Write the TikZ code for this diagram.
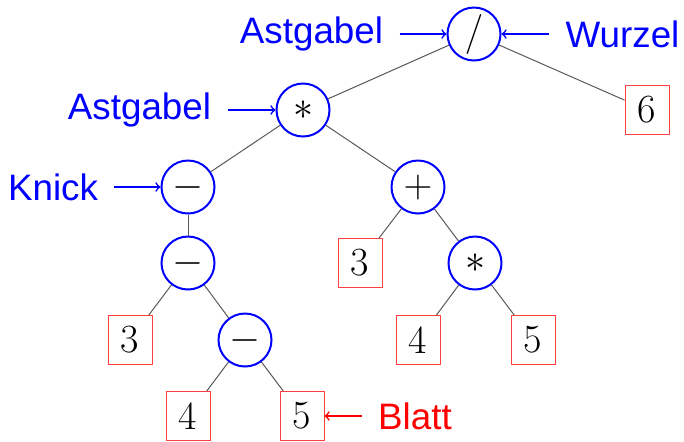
\RequirePackage{fix-cm}
\documentclass[tikz,border=0pt]{standalone}
\usepackage{fontspec}
\newfontfamily\labfont{Liberation Sans}
\begin{document}
\begin{tikzpicture}[x=0.5pt,y=-0.5pt,
  op/.style={circle,draw=blue,line width=1pt,minimum size=26.5pt,inner sep=0pt,font=\fontsize{20}{24}\selectfont},
  leaf/.style={rectangle,draw=red!75,line width=0.5pt,minimum width=22pt,minimum height=24.5pt,inner sep=0pt,font=\fontsize{20}{24}\selectfont},
  edge/.style={draw=black!65,line width=0.5pt},
  lab/.style={font=\labfont\fontsize{18.4}{22}\selectfont,inner ysep=0pt,inner xsep=8pt},
  pointer/.style={->,line width=0.8pt}]
\useasboundingbox (0,0) rectangle (684,441);
% tree nodes
\node[op]   (root) at (474,34)  {$/$};
\node[leaf] (six)  at (647,110) {6};
\node[op]   (m1)   at (303,110) {$*$};
\node[op]   (k)    at (188,187) {$-$};
\node[op]   (p)    at (418,187) {$+$};
\node[op]   (k2)   at (188,263) {$-$};
\node[leaf] (t3a)  at (360,263) {3};
\node[op]   (m2)   at (475,263) {$*$};
\node[leaf] (t3b)  at (130,340) {3};
\node[op]   (k3)   at (245,340) {$-$};
\node[leaf] (f4a)  at (418,340) {4};
\node[leaf] (f5a)  at (533,340) {5};
\node[leaf] (f4b)  at (188,416) {4};
\node[leaf] (f5b)  at (302,416) {5};
% edges
\draw[edge] (root) -- (m1);
\draw[edge] (root) -- (six);
\draw[edge] (m1) -- (k);
\draw[edge] (m1) -- (p);
\draw[edge] (k) -- (k2);
\draw[edge] (p) -- (t3a);
\draw[edge] (p) -- (m2);
\draw[edge] (k2) -- (t3b);
\draw[edge] (k2) -- (k3);
\draw[edge] (m2) -- (f4a);
\draw[edge] (m2) -- (f5a);
\draw[edge] (k3) -- (f4b);
\draw[edge] (k3) -- (f5b);
% labels
\node[lab,text=blue] (lA1) at (311.5,34) {Astgabel};
\node[lab,text=blue] (lW)  at (622.5,34) {Wurzel};
\node[lab,text=blue] (lA2) at (139.5,110) {Astgabel};
\node[lab,text=blue] (lK)  at (53,187) {Knick};
\node[lab,text=red]  (lB)  at (415,416) {Blatt};
\draw[pointer,blue] (lA1) -- (root);
\draw[pointer,blue] (lW) -- (root);
\draw[pointer,blue] (lA2) -- (m1);
\draw[pointer,blue] (lK) -- (k);
\draw[pointer,red]  (lB) -- (f5b);
\end{tikzpicture}
\end{document}
